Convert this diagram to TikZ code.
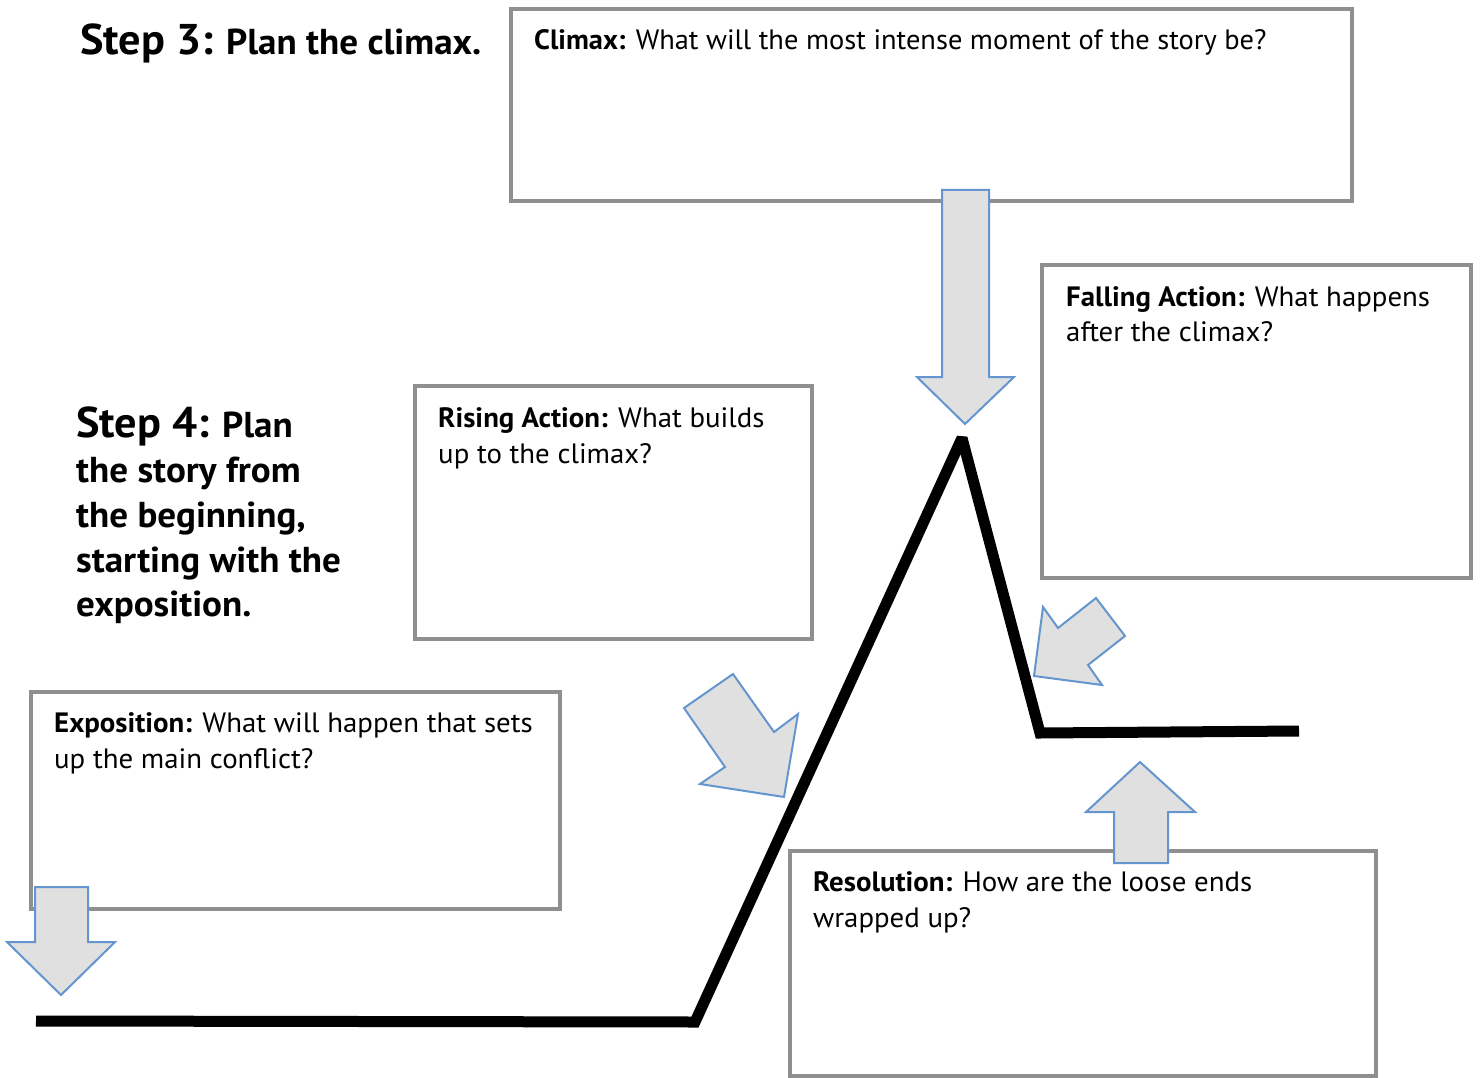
\documentclass[tikz,border=0pt]{standalone}
\usepackage{fontspec}
\setmainfont[FakeStretch=1.03]{PT Sans}
\newfontfamily\condfont[FakeStretch=1.015]{PT Sans}
\definecolor{boxgray}{HTML}{8F8F8F}
\definecolor{arrfill}{HTML}{E0E0E0}
\definecolor{arrline}{HTML}{6595CF}
\tikzset{
  panel/.style={draw=boxgray, line width=4pt, fill=white, inner sep=0pt, outer sep=0pt, anchor=north west},
  bigarrow/.style={fill=arrfill, draw=arrline, line width=2pt, line join=miter},
  plot/.style={line width=11pt, line join=miter, miter limit=2, line cap=butt},
  body/.style={anchor=base west, inner sep=0pt, font=\fontsize{28}{34}\selectfont},
  cond/.style={anchor=base west, inner sep=0pt, font=\condfont\fontsize{28}{34}\selectfont},
  steptxt/.style={anchor=base west, inner sep=0pt, font=\bfseries\fontsize{36}{42}\selectfont},
}
\begin{document}
\begin{tikzpicture}[x=1pt,y=-1pt]
\useasboundingbox (0,0) rectangle (1480,1078);
% boxes
\node[panel, minimum width=841pt, minimum height=192pt] (climaxbox) at (511,9) {};
\node[panel, minimum width=429pt, minimum height=313pt] (fallbox) at (1042,265) {};
\node[panel, minimum width=397pt, minimum height=253pt] (risebox) at (415,386) {};
\node[panel, minimum width=529pt, minimum height=217pt] (expobox) at (31,692) {};
\node[panel, minimum width=586pt, minimum height=225pt] (resobox) at (790,851) {};
% step texts
\node[steptxt] (s3) at (80,55) {{\fontsize{43}{50}\selectfont Step 3:} Plan the climax.};
\node[steptxt] (s4a) at (76,437) {{\fontsize{43}{50}\selectfont Step 4:} Plan};
\node[steptxt] (s4b) at (76,482) {the story from};
\node[steptxt] (s4c) at (76,527) {the beginning,};
\node[steptxt] (s4d) at (76,572) {starting with the};
\node[steptxt] (s4e) at (76,616) {exposition.};
% box texts
\node[cond] (climaxtxt) at (534,50) {\textbf{Climax:} What will the most intense moment of the story be?};
\node[body] (fall1) at (1066,306) {\textbf{Falling Action:} What happens};
\node[body] (fall2) at (1066,341) {after the climax?};
\node[body] (rise1) at (438,427) {\textbf{Rising Action:} What builds};
\node[body] (rise2) at (438,463) {up to the climax?};
\node[body] (expo1) at (54,732) {\textbf{Exposition:} What will happen that sets};
\node[body] (expo2) at (54,768) {up the main conflict?};
\node[body] (reso1) at (813,891) {\textbf{Resolution:} How are the loose ends};
\node[body] (reso2) at (813,927) {wrapped up?};
% plot line
\coordinate (p0) at (36,1021);
\coordinate (p1) at (695,1022);
\coordinate (p2) at (962,438);
\coordinate (p3) at (1040,733);
\coordinate (p4) at (1299,731);
\draw[plot] (p0) -- (p1) -- (p2) -- (p3) -- (p4);
% arrows
\draw[bigarrow] (942,190) -- (989,190) -- (989,377) -- (1014,377) -- (965,424) -- (917,377) -- (942,377) -- cycle;
\draw[bigarrow] (35,887) -- (88,887) -- (88,942) -- (115,942) -- (61,995) -- (7,942) -- (35,942) -- cycle;
\draw[bigarrow] (1114,863) -- (1168,863) -- (1168,812) -- (1195,812) -- (1140,762) -- (1086,812) -- (1114,812) -- cycle;
\draw[bigarrow] (684,708) -- (733,674) -- (774,732) -- (798,714) -- (784,797) -- (700,784) -- (725,767) -- cycle;
\draw[bigarrow] (1096,598) -- (1125,636) -- (1088,665) -- (1102,685) -- (1034,676) -- (1043,607) -- (1058,628) -- cycle;
\end{tikzpicture}
\end{document}
